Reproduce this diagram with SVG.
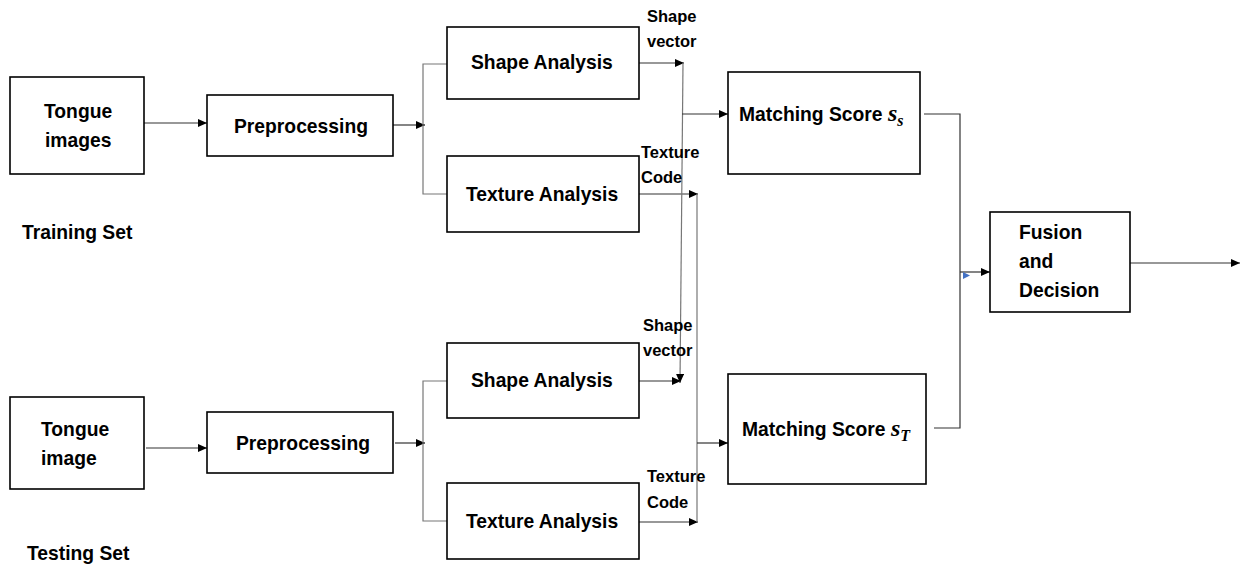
<svg xmlns="http://www.w3.org/2000/svg" width="1247" height="568" viewBox="0 0 1247 568">
<style>
.box{fill:#fff;stroke:#000;stroke-width:1.6}
.t{font-family:"Liberation Sans",Arial,sans-serif;font-weight:bold;font-size:19.3px;fill:#000}
.s{font-family:"Liberation Sans",Arial,sans-serif;font-weight:bold;font-size:16.5px;fill:#000}
.m{font-family:"Liberation Serif","Times New Roman",serif;font-style:italic;fill:#000}
.c{fill:none;stroke:#333;stroke-width:1.2}
.g{fill:none;stroke:#777;stroke-width:1.2}
</style>
<defs>
<marker id="ah" markerUnits="userSpaceOnUse" markerWidth="9" markerHeight="8" refX="9" refY="4" orient="auto">
<path d="M0,0 L9,4 L0,8 z" fill="#000"/>
</marker>
</defs>
<rect width="1247" height="568" fill="#fff"/>
<g id="connectors">
<line class="c" x1="144" y1="123" x2="207" y2="123" marker-end="url(#ah)"/>
<line class="c" x1="393" y1="125" x2="425" y2="125" marker-end="url(#ah)"/>
<polyline class="g" points="447,64 423,64 423,194 447,194"/>
<line class="c" x1="146" y1="448" x2="207" y2="448" marker-end="url(#ah)"/>
<line class="c" x1="395" y1="443" x2="425" y2="443" marker-end="url(#ah)"/>
<polyline class="g" points="447,381 423,381 423,521 447,521"/>
<line class="c" x1="639" y1="63" x2="684" y2="63" marker-end="url(#ah)"/>
<line class="c" x1="639" y1="194" x2="698" y2="194" marker-end="url(#ah)"/>
<line class="c" x1="639" y1="381" x2="681" y2="381" marker-end="url(#ah)"/>
<line class="c" x1="639" y1="522" x2="698" y2="522" marker-end="url(#ah)"/>
<line class="g" x1="683" y1="63" x2="680" y2="383" marker-end="url(#ah)"/>
<line class="g" x1="697" y1="194" x2="697" y2="522"/>
<line class="c" x1="682" y1="114" x2="728" y2="114" marker-end="url(#ah)"/>
<line class="c" x1="697" y1="443" x2="728" y2="443" marker-end="url(#ah)"/>
<polyline class="c" points="924,114 960,114 960,428 934,428"/>
<line class="c" x1="960" y1="272" x2="990" y2="272" marker-end="url(#ah)"/>
<polygon points="963,272 970,275.5 963,279" fill="#4472c4"/>
<line class="c" x1="1130" y1="263" x2="1240" y2="263" marker-end="url(#ah)"/>
</g>
<g id="tongue-train">
<rect class="box" x="10" y="77" width="134" height="97"/>
<text class="t" x="44" y="118">Tongue</text>
<text class="t" x="45" y="147">images</text>
</g>
<text class="t" x="22" y="239">Training Set</text>
<g id="prep-train">
<rect class="box" x="207" y="95" width="186" height="61"/>
<text class="t" x="234" y="133">Preprocessing</text>
</g>
<g id="shape-train">
<rect class="box" x="447" y="27" width="192" height="72"/>
<text class="t" x="471" y="69">Shape Analysis</text>
</g>
<g id="texture-train">
<rect class="box" x="447" y="156" width="192" height="76"/>
<text class="t" x="466" y="201">Texture Analysis</text>
</g>
<g id="tongue-test">
<rect class="box" x="10" y="397" width="134" height="92"/>
<text class="t" x="41" y="436">Tongue</text>
<text class="t" x="41" y="465">image</text>
</g>
<text class="t" x="27" y="560">Testing Set</text>
<g id="prep-test">
<rect class="box" x="207" y="412" width="186" height="61"/>
<text class="t" x="236" y="450">Preprocessing</text>
</g>
<g id="shape-test">
<rect class="box" x="447" y="343" width="192" height="75"/>
<text class="t" x="471" y="387">Shape Analysis</text>
</g>
<g id="texture-test">
<rect class="box" x="447" y="483" width="192" height="76"/>
<text class="t" x="466" y="528">Texture Analysis</text>
</g>
<g id="labels">
<text class="s" x="647" y="22">Shape</text>
<text class="s" x="647" y="47">vector</text>
<text class="s" x="641" y="158">Texture</text>
<text class="s" x="641" y="183">Code</text>
<text class="s" x="643" y="331">Shape</text>
<text class="s" x="643" y="356">vector</text>
<text class="s" x="647" y="482">Texture</text>
<text class="s" x="647" y="508">Code</text>
</g>
<g id="match-s">
<rect class="box" x="728" y="72" width="192" height="102"/>
<text class="t" x="739" y="121">Matching Score <tspan class="m" font-size="24">s</tspan><tspan class="m" font-size="16" dy="5">s</tspan></text>
</g>
<g id="match-t">
<rect class="box" x="728" y="374" width="198" height="110"/>
<text class="t" x="742" y="436">Matching Score <tspan class="m" font-size="24">s</tspan><tspan class="m" font-size="16" dy="5">T</tspan></text>
</g>
<g id="fusion">
<rect class="box" x="990" y="212" width="140" height="100"/>
<text class="t" x="1019" y="239">Fusion</text>
<text class="t" x="1019" y="268">and</text>
<text class="t" x="1019" y="297">Decision</text>
</g>
</svg>
